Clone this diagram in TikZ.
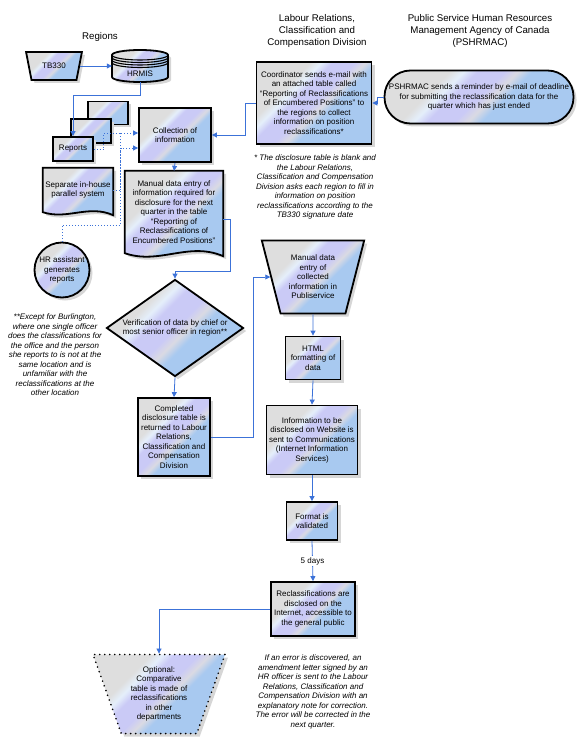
\documentclass[tikz,border=0pt]{standalone}
\usepackage{fontspec}
\setmainfont{Liberation Sans}
\usetikzlibrary{shapes.geometric,shadows,calc,arrows.meta}
\pgfdeclarelayer{bg}
\pgfsetlayers{bg,main}
\definecolor{linkblue}{HTML}{3C72D8}
\definecolor{swgray}{HTML}{DEDEDE}
\definecolor{swlav}{HTML}{CACAF6}
\definecolor{swblue}{HTML}{A8C9F0}
\pgfdeclarehorizontalshading{swirlsh}{100bp}{color(0bp)=(swgray); color(34bp)=(swgray); color(38bp)=(white!70!swblue); color(42bp)=(swlav); color(50bp)=(swlav); color(54bp)=(swgray!80!swlav); color(58bp)=(swblue); color(100bp)=(swblue)}
% wavy document outline behind a node
\newcommand{\docshape}[2]{%
  \begin{pgfonlayer}{bg}
  \path[swirl,draw,line width=1.8pt] (#1.north west) -- (#1.north east) -- ($(#1.south east)+(0,3)$)
    .. controls ($(#1.south east)!0.35!(#1.south west)+(0,-#2)$) and ($(#1.south west)!0.35!(#1.south east)+(0,#2)$) .. (#1.south west) -- cycle;
  \end{pgfonlayer}}
\begin{document}
\begin{tikzpicture}[x=1pt,y=-1pt,>={Triangle[length=5pt,width=5pt]},
    font=\fontsize{8}{9.5}\selectfont,
    swirl/.style={shading=swirlsh,shading angle=-45,
      drop shadow={shadow xshift=3pt,shadow yshift=-3pt,fill=black!16,opacity=1}},
    proc/.style={swirl,draw,line width=1.8pt,align=center,inner sep=1pt},
    txt/.style={align=center,inner sep=0pt},
    head/.style={align=center,font=\fontsize{9.7}{12}\selectfont},
    note/.style={align=center,font=\fontsize{8}{9.5}\selectfont\itshape},
    link/.style={draw=linkblue,line width=0.8pt,->},
    dotline/.style={draw=linkblue,line width=0.9pt,dotted},
    dotlink/.style={dotline,->}]
    \useasboundingbox (0,0) rectangle (580,741);
    % headings
    \node[head] (regions) at (100,37) {Regions};
    \node[head] (lrccd) at (317,31) {Labour Relations,\\Classification and\\Compensation Division};
    \node[head] (agency) at (480,31) {Public Service Human Resources\\Management Agency of Canada\\(PSHRMAC)};
    % regions
    \node[proc,trapezium,trapezium stretches=true,shape border rotate=180,trapezium angle=68,
      minimum width=56pt,minimum height=28pt] (tb) at (54,66) {TB330};
    \path[swirl,draw,line width=1.8pt] (112,55) -- (112,77) arc[start angle=180,end angle=360,x radius=28pt,y radius=5pt]
      -- (168,55) arc[start angle=0,end angle=180,x radius=28pt,y radius=5pt] -- cycle;
    \foreach \k in {0,2.5,5,7.5}
      \draw[line width=1.1pt] (112,{55+\k}) arc[start angle=180,end angle=360,x radius=28pt,y radius=5pt];
    \node[txt,minimum width=56pt,minimum height=16pt] (hrmis) at (140,74) {HRMIS};
    \node[proc,minimum width=40pt,minimum height=23pt] (rep3) at (108,113) {};
    \node[proc,minimum width=40pt,minimum height=24pt] (rep2) at (91,131) {};
    \node[proc,minimum width=40pt,minimum height=24pt] (reports) at (73,149) {Reports};
    \node[proc,minimum width=72pt,minimum height=54pt] (coll) at (175,135) {Collection of\\information};
    \node[txt,minimum width=70pt,minimum height=44pt] (sep) at (78,190) {Separate in-house\\parallel system};
    \docshape{sep}{8}
    \node[proc,circle,minimum size=55pt,inner sep=0pt] (hr) at (62,270) {HR assistant\\generates\\reports};
    \node[txt,minimum width=98pt,minimum height=82pt] (man) at (174,212) {Manual data entry of\\information required for\\disclosure for the next\\quarter in the table\\``Reporting of\\Reclassifications of\\Encumbered Positions''};
    \docshape{man}{12}
    \node[proc,diamond,aspect=1.41,minimum width=137pt,minimum height=97pt,inner sep=0pt] (ver) at (175,328) {Verification of data by chief or\\most senior officer in region**};
    \node[proc,minimum width=72pt,minimum height=78pt] (comp) at (174,437) {Completed\\disclosure table is\\returned to Labour\\Relations,\\Classification and\\Compensation\\Division};
    \node[note] (burl) at (55,355) {**Except for Burlington,\\where one single officer\\does the classifications for\\the office and the person\\she reports to is not at the\\same location and is\\unfamiliar with the\\reclassifications at the\\other location};
    % division and agency
    \node[proc,minimum width=115pt,minimum height=82pt] (coord) at (314,103) {Coordinator sends e-mail with\\an attached table called\\``Reporting of Reclassifications\\of Encumbered Positions'' to\\the regions to collect\\information on position\\reclassifications*};
    \node[proc,rounded corners=26pt,minimum width=189pt,minimum height=53pt] (pshr) at (479,97) {PSHRMAC sends a reminder by e-mail of deadline\\for submitting the reclassification data for the\\quarter which has just ended};
    \node[note] (blank) at (315,187) {* The disclosure table is blank and\\the Labour Relations,\\Classification and Compensation\\Division asks each region to fill in\\information on position\\reclassifications according to the\\TB330 signature date};
    \node[proc,trapezium,trapezium stretches=true,shape border rotate=180,trapezium angle=72.5,
      minimum width=103pt,minimum height=73pt] (pub) at (313,277) {Manual data\\entry of\\collected\\information in\\Publiservice};
    \node[proc,minimum width=55pt,minimum height=43pt] (html) at (313,358) {HTML\\formatting of\\data};
    \node[proc,minimum width=91pt,minimum height=69pt] (info) at (312,440) {Information to be\\disclosed on Website is\\sent to Communications\\(Internet Information\\Services)};
    \node[proc,minimum width=51pt,minimum height=38pt] (fmt) at (312,521) {Format is\\validated};
    \node[proc,minimum width=84pt,minimum height=54pt] (rec) at (313,609) {Reclassifications are\\disclosed on the\\Internet, accessible to\\the general public};
    \node[proc,trapezium,trapezium stretches=true,shape border rotate=180,trapezium angle=69,
      minimum width=132pt,minimum height=79pt,dash pattern=on 0pt off 5pt,line cap=round] (opt) at (159,694) {Optional:\\Comparative\\table is made of\\reclassifications\\in other\\departments};
    \node[note] (err) at (313,692) {If an error is discovered, an\\amendment letter signed by an\\HR officer is sent to the Labour\\Relations, Classification and\\Compensation Division with an\\explanatory note for correction.\\The error will be corrected in the\\next quarter.};
    % connectors
    \coordinate (dj) at (120,148);
    \draw[link] (tb.east) -- (tb.east -| hrmis.west);
    \draw[link] (hrmis.south) -- ++(0,13) -| (reports.north);
    \draw[dotlink] (reports.east) -- ++(10,0) |- ($(coll.west)+(0,-2)$);
    \draw[dotlink] (sep.east) -| (dj) -- (dj -| coll.west);
    \draw[dotline] (hr.north) -- ++(0,-16) -| ($(dj)+(0,-15)$);
    \draw[link] (coll.south) -- (man.north);
    \draw[link] ($(man.east)+(0,7)$) -- ++(7,0) |- ($(ver.north)+(0,-7)$) -- (ver.north);
    \draw[link] (ver.south) -- (comp.north);
    \draw[link] (comp.east) -- ++(42,0) |- (pub.west);
    \draw[link] (coord.west) -- ++(-10,0) |- (coll.east);
    \draw[link] (pshr.west) -- ++(-6,0) |- (coord.east);
    \draw[link] (pub.south) -- (html.north);
    \draw[link] (html.south) -- (info.north);
    \draw[link] (info.south) -- (fmt.north);
    \draw[link] (fmt.south) -- node[fill=white,inner sep=1pt] {5 days} (rec.north);
    \draw[link] (rec.west) -| (opt.north);
\end{tikzpicture}
\end{document}
